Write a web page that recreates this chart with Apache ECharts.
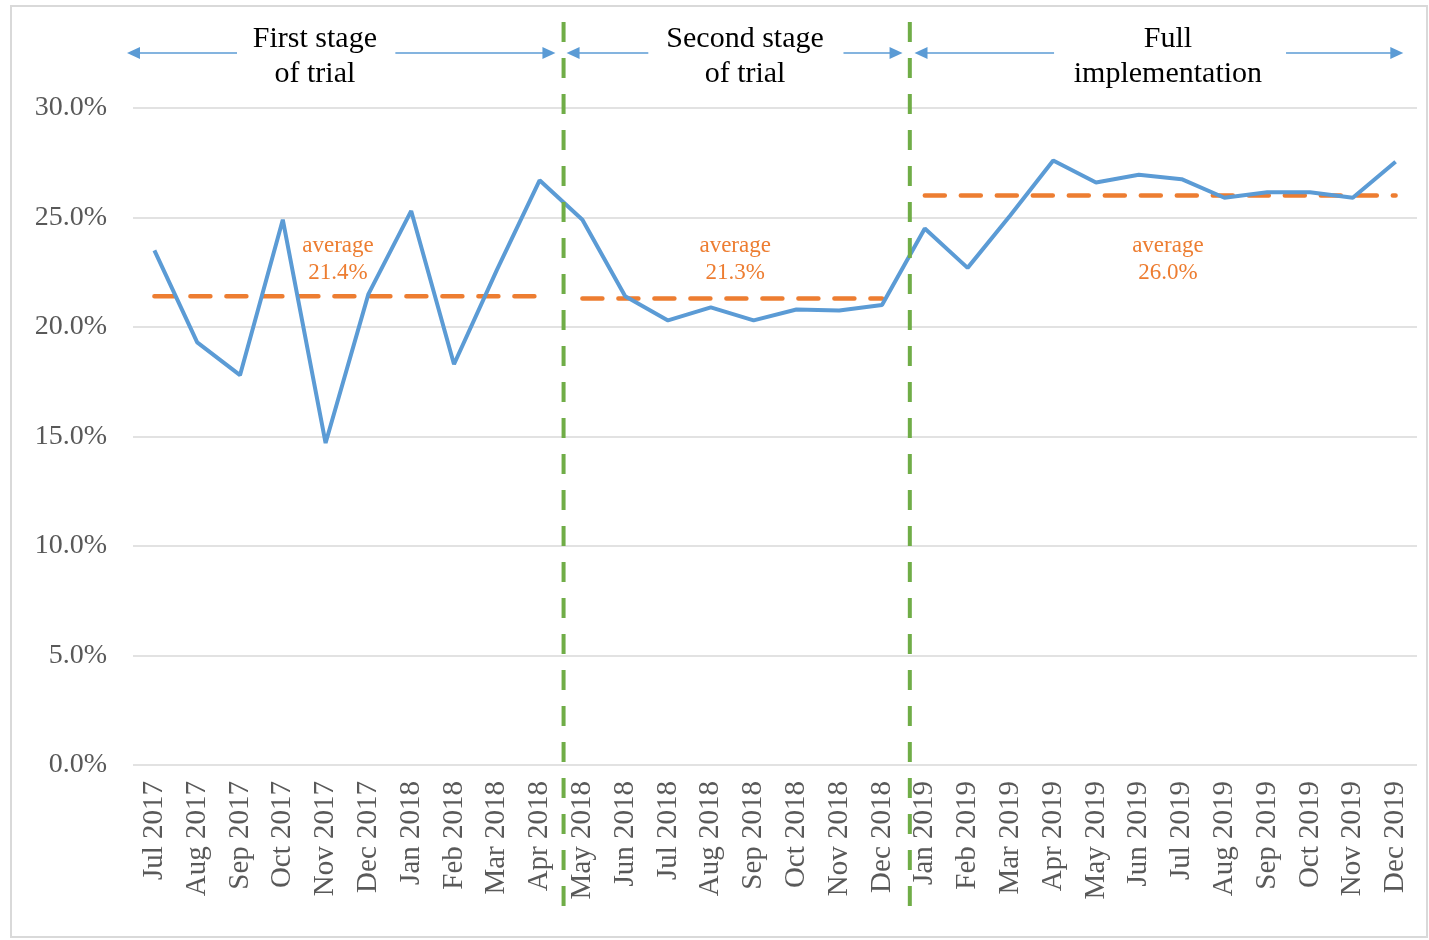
<!DOCTYPE html>
<html>
<head>
<meta charset="utf-8">
<script src="https://cdn.jsdelivr.net/npm/echarts@6/dist/echarts.min.js"></script>
<style>
html,body{margin:0;padding:0;background:#fff;}
#chart{width:1429px;height:940px;}
</style>
</head>
<body>
<div id="chart"></div>
<script>
// ---- data ----
const categories = ['Jul 2017','Aug 2017','Sep 2017','Oct 2017','Nov 2017','Dec 2017','Jan 2018','Feb 2018','Mar 2018','Apr 2018',
  'May 2018','Jun 2018','Jul 2018','Aug 2018','Sep 2018','Oct 2018','Nov 2018','Dec 2018',
  'Jan 2019','Feb 2019','Mar 2019','Apr 2019','May 2019','Jun 2019','Jul 2019','Aug 2019','Sep 2019','Oct 2019','Nov 2019','Dec 2019'];
const rates = [23.5,19.3,17.8,24.9,14.7,21.5,25.3,18.3,22.6,26.7,
  24.9,21.4,20.3,20.9,20.3,20.8,20.75,21.0,
  24.5,22.7,25.1,27.6,26.6,26.95,26.75,25.9,26.15,26.15,25.9,27.55];
const stageNames = [['First stage','of trial'],['Second stage','of trial'],['Full','implementation']];
const stageRanges = [[0,9],[10,17],[18,29]];
const stageAverages = [21.4,21.3,26.0];
const yTicks = [0,5,10,15,20,25,30];

// ---- annotation placement (in category-index units) ----
const boundaries = [9.56, 17.65];
const arrowSpans = [[-0.64,1.93,5.63,9.37],[9.63,11.54,16.1,17.48],[17.76,21.02,26.44,29.18]];
const stageLabelX = [3.75, 13.8, 23.68];
const avgLabelX = [4.29, 13.57, 23.68];
const avgLabelY = 23.08;

const font = 'Liberation Serif';
const chart = echarts.init(document.getElementById('chart'));

const avgSeries = stageRanges.map((r, k) => ({
  type: 'line',
  name: 'avg' + k,
  data: categories.map((c, i) => (i >= r[0] && i <= r[1]) ? stageAverages[k] : null),
  showSymbol: false,
  symbol: 'none',
  lineStyle: {color: '#ED7D31', width: 4.5, type: [20, 16], cap: 'round'},
  z: 3,
  silent: true
}));

chart.setOption({
  animation: false,
  grid: {left: 133, right: 12, top: 108, bottom: 175},
  xAxis: {
    type: 'category',
    data: categories,
    boundaryGap: true,
    axisLine: {show: false},
    axisTick: {show: false},
    axisLabel: {rotate: 90, fontFamily: font, fontSize: 29, color: '#595959', margin: 16, interval: 0}
  },
  yAxis: {
    type: 'value',
    min: yTicks[0], max: yTicks[yTicks.length - 1], interval: yTicks[1] - yTicks[0],
    axisLine: {show: false},
    axisTick: {show: false},
    splitLine: {lineStyle: {color: '#D9D9D9', width: 1.5}},
    axisLabel: {fontFamily: font, fontSize: 28, color: '#595959', margin: 26,
      formatter: v => v.toFixed(1) + '%'}
  },
  series: [{
    type: 'line',
    name: 'rate',
    data: rates,
    showSymbol: false,
    symbol: 'none',
    lineStyle: {color: '#5B9BD5', width: 4},
    z: 4
  }].concat(avgSeries)
});

function px(v) {
  const x0 = chart.convertToPixel({xAxisIndex: 0}, 0);
  const x1 = chart.convertToPixel({xAxisIndex: 0}, 1);
  return x0 + v * (x1 - x0);
}
function py(v) { return chart.convertToPixel({yAxisIndex: 0}, v); }

const gridTop = py(30);
const gridBottom = py(0);
const arrowY = gridTop - 55;
const g = [];

// outer frame
g.push({type: 'rect', shape: {x: 11, y: 6, width: 1416, height: 931}, style: {fill: 'none', stroke: '#D9D9D9', lineWidth: 2}, z: 0});

// stage boundaries
boundaries.forEach(b => {
  const x = px(b);
  g.push({type: 'line', shape: {x1: x, y1: 22, x2: x, y2: gridBottom + 145},
    style: {stroke: '#70AD47', lineWidth: 4, lineDash: [20, 16]}, z: 10});
});

// arrows
function arrowHead(tipX, dir) {
  const L = 13, H = 6;
  return {type: 'polygon', shape: {points: [[tipX, arrowY], [tipX - dir * L, arrowY - H], [tipX - dir * L, arrowY + H]]},
    style: {fill: '#5B9BD5'}, z: 10};
}
arrowSpans.forEach(s => {
  const a = px(s[0]), b = px(s[1]), c = px(s[2]), d = px(s[3]);
  g.push({type: 'line', shape: {x1: a + 10, y1: arrowY, x2: b, y2: arrowY}, style: {stroke: '#5B9BD5', lineWidth: 1.5}, z: 10});
  g.push({type: 'line', shape: {x1: c, y1: arrowY, x2: d - 10, y2: arrowY}, style: {stroke: '#5B9BD5', lineWidth: 1.5}, z: 10});
  g.push(arrowHead(a, -1));
  g.push(arrowHead(d, 1));
});

// stage labels
stageNames.forEach((n, k) => {
  g.push({type: 'text', x: px(stageLabelX[k]), y: arrowY + 4,
    style: {text: n.join('\n'), font: '30px "' + font + '"', fill: '#000', align: 'center', verticalAlign: 'middle', lineHeight: 35},
    z: 10});
});

// average labels
stageAverages.forEach((a, k) => {
  g.push({type: 'text', x: px(avgLabelX[k]), y: py(avgLabelY),
    style: {text: 'average\n' + a.toFixed(1) + '%', font: '23px "' + font + '"', fill: '#ED7D31', align: 'center', verticalAlign: 'middle', lineHeight: 27},
    z: 10});
});

chart.setOption({graphic: g});
</script>
</body>
</html>
